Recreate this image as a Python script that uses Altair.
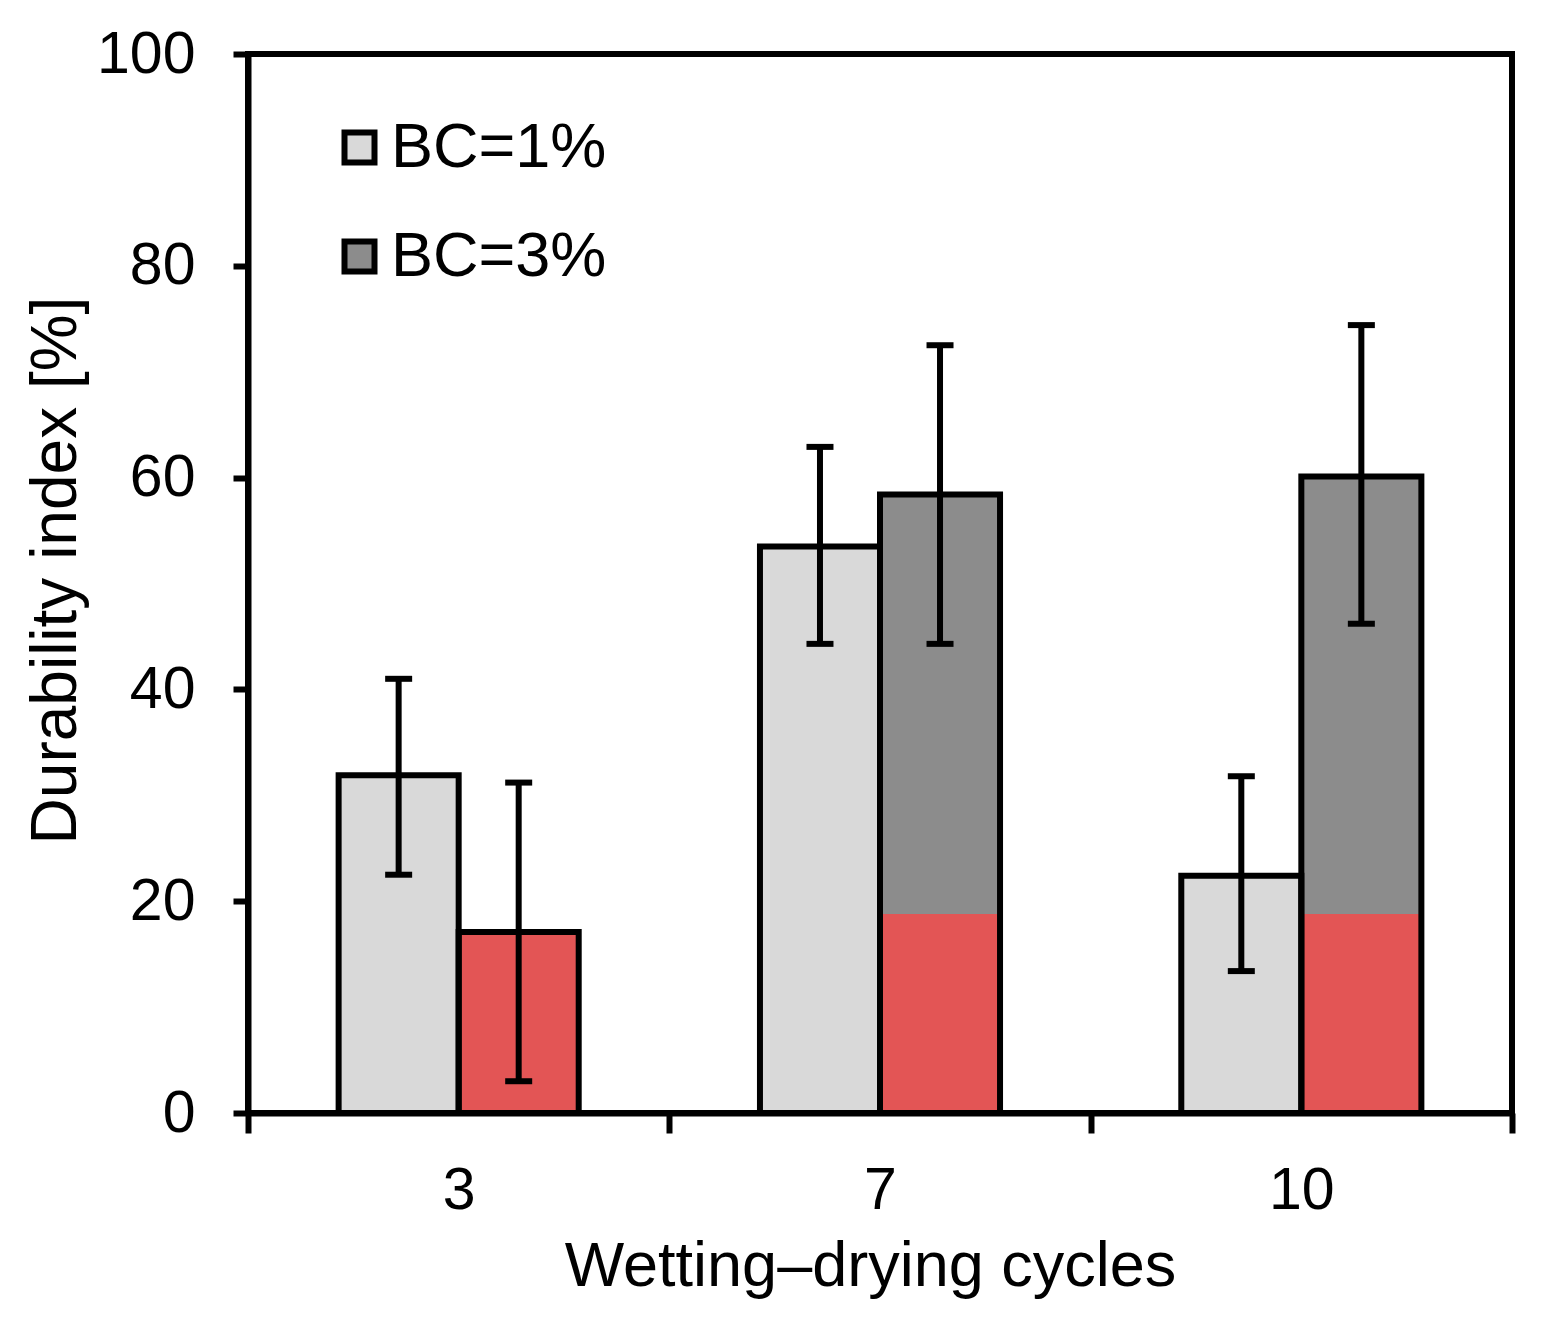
import altair as alt
import pandas as pd

cycles = ["3", "7", "10"]
series = ["BC=1%", "BC=3%"]
bc1_mean = [31.9, 53.5, 22.4]
bc3_mean = [17.1, 58.4, 60.1]
bc1_low = [22.5, 44.3, 13.4]
bc1_high = [41.0, 62.9, 31.8]
bc3_low = [3.0, 44.3, 46.2]
bc3_high = [31.2, 72.5, 74.4]
red_limit = 18.8

rows = []
for i, c in enumerate(cycles):
    rows.append(dict(cycle=c, series="BC=1%", mean=bc1_mean[i], low=bc1_low[i], high=bc1_high[i]))
    rows.append(dict(cycle=c, series="BC=3%", mean=bc3_mean[i], low=bc3_low[i], high=bc3_high[i]))
df = pd.DataFrame(rows)
df_red = df[df["series"] == "BC=3%"].copy()
df_red["red"] = df_red["mean"].clip(upper=red_limit)

FONT = "Liberation Sans"
LW = 6

x_enc = alt.X(
    "cycle:N", sort=cycles,
    scale=alt.Scale(paddingInner=0, paddingOuter=0),
    axis=alt.Axis(
        title="Wetting\u2013drying cycles", labelAngle=0, tickBand="extent",
        tickSize=20, tickWidth=LW, domainWidth=LW, domainColor="black",
        tickColor="black", labelColor="black", titleColor="black",
        labelFontSize=59, titleFontSize=63, labelPadding=28, titlePadding=15,
        titleX=622,
        titleFontWeight="normal", labelFont=FONT, titleFont=FONT,
    ),
)
xo_enc = alt.XOffset("series:N", sort=series,
                     scale=alt.Scale(paddingInner=0, paddingOuter=0.755))
y_axis = alt.Axis(
    values=[0, 20, 40, 60, 80, 100], title="Durability index [%]",
    tickSize=15, tickWidth=LW, domainWidth=LW, domainColor="black",
    tickColor="black", labelColor="black", titleColor="black",
    labelFontSize=59, titleFontSize=64, labelPadding=38, titlePadding=8,
    titleY=516,
    titleFontWeight="normal", labelFont=FONT, titleFont=FONT, grid=False,
)
y_scale = alt.Scale(domain=[0, 100], nice=False)

base = alt.Chart(df)

bars = base.mark_bar(stroke=None).encode(
    x=x_enc, xOffset=xo_enc,
    y=alt.Y("mean:Q", scale=y_scale, axis=y_axis),
    fill=alt.Fill(
        "series:N",
        scale=alt.Scale(domain=series, range=["#d9d9d9", "#8c8c8c"]),
        legend=alt.Legend(
            title=None, orient="none", legendX=80, legendY=62,
            symbolType="square", symbolSize=900, symbolStrokeColor="black",
            symbolStrokeWidth=LW, symbolOpacity=1, labelFontSize=63,
            labelFont=FONT, labelColor="black", rowPadding=45, labelOffset=0,
            labelLimit=500, padding=0,
        ),
    ),
)

red = alt.Chart(df_red).mark_bar(color="#e35555", stroke=None).encode(
    x=x_enc, xOffset=xo_enc,
    y=alt.Y("red:Q", scale=y_scale),
)

outline = base.mark_bar(fill=None, fillOpacity=0, stroke="black", strokeWidth=LW).encode(
    x=x_enc, xOffset=xo_enc,
    y=alt.Y("mean:Q", scale=y_scale),
)

err = base.mark_rule(color="black", strokeWidth=LW).encode(
    x=x_enc, xOffset=xo_enc,
    y=alt.Y("low:Q", scale=y_scale), y2="high:Q",
)
cap_hi = base.mark_tick(color="black", size=27, thickness=LW, opacity=1).encode(
    x=x_enc, xOffset=xo_enc, y=alt.Y("high:Q", scale=y_scale),
)
cap_lo = base.mark_tick(color="black", size=27, thickness=LW, opacity=1).encode(
    x=x_enc, xOffset=xo_enc, y=alt.Y("low:Q", scale=y_scale),
)

chart = (
    alt.layer(bars, red, outline, err, cap_hi, cap_lo)
    .properties(
        width=1264, height=1059,
        autosize=alt.AutoSizeParams(type="none"),
        padding={"left": 240, "top": 46, "right": 30, "bottom": 200},
        background="white",
    )
    .configure_view(stroke="black", strokeWidth=LW)
)

chart.save("out.html", embed_options={"renderer": "svg", "actions": False})
